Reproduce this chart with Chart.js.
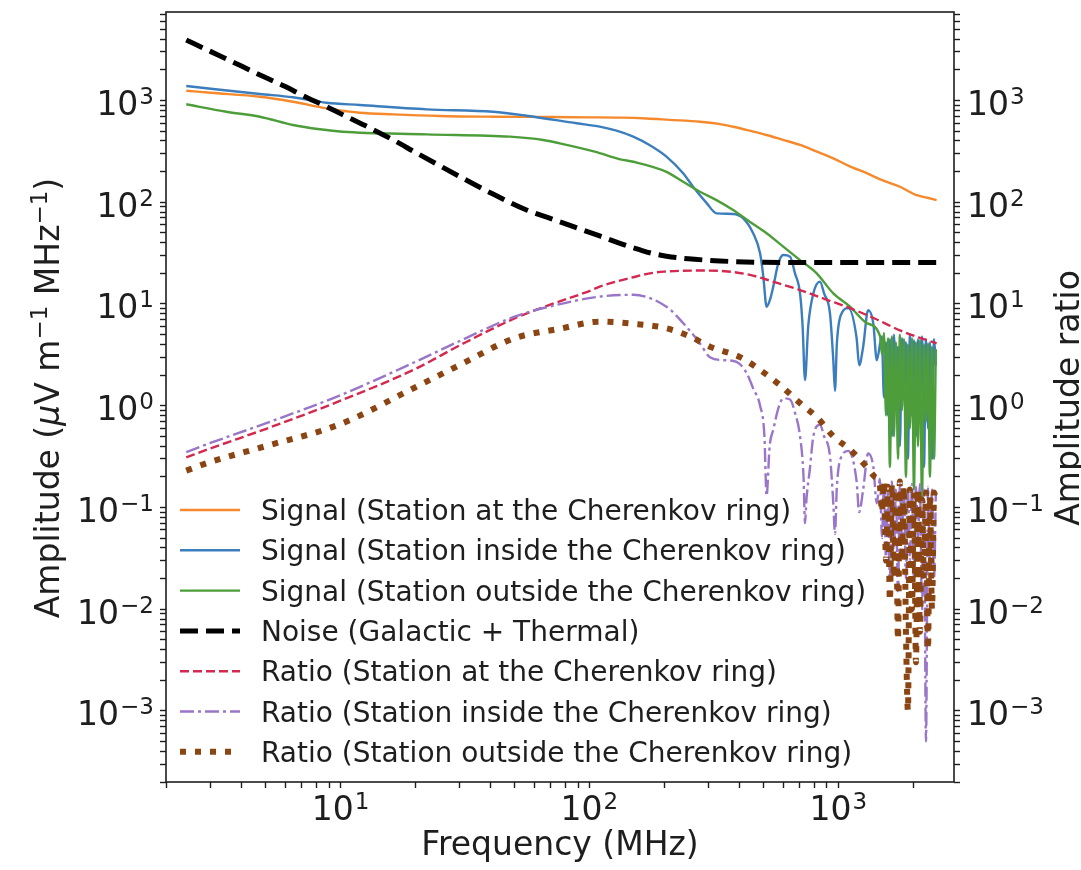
<!DOCTYPE html>
<html><head><meta charset="utf-8">
<script src="https://cdn.jsdelivr.net/npm/chart.js@4.4.1/dist/chart.umd.min.js"></script>
<style>html,body{margin:0;padding:0;background:#fff}#wrap{width:1081px;height:870px}</style>
</head><body><div id="wrap"><canvas id="c" width="1081" height="870"></canvas></div>
<script>
const FONT = "'DejaVu Sans', sans-serif";
const INK = '#1e1e1e';

/* ---- data (MHz, µV/m/MHz or ratio) ---- */
const NOISE_F = [2.4, 3, 4, 5, 6, 7, 8.8, 10, 12.5, 16.3, 20, 25, 30.2, 40, 55.9, 70, 90, 110, 132.6, 160, 180, 204, 250, 300, 378, 500, 1000, 2500];
const NOISE_V = [3935, 3040, 2180, 1680, 1370, 1130, 869, 743, 570, 409, 309, 229, 178, 124, 84, 69, 55.5, 46.6, 39.5, 34, 31.3, 29.5, 27.8, 26.9, 26.1, 25.7, 25.5, 25.5];

const ORANGE_F = [2.4, 3, 4.74, 6.44, 8.79, 11.95, 16.3, 25, 41, 70, 100, 133, 170, 210, 278, 330, 378, 440, 515, 600, 702, 820, 955, 1100, 1300, 1500, 1770, 2050, 2300, 2484];
const ORANGE_V = [1248, 1190, 1090, 973, 838, 759, 731, 705, 693, 688, 683, 678, 665, 645, 619, 590, 552, 505, 458, 410, 366, 315, 270, 228, 193, 165, 142, 118, 110, 105];

const BLUE_F = [2.4, 4.74, 6.44, 8.79, 11.95, 22.2, 41, 55.9, 88.9, 110, 128.5, 150, 175, 204, 238, 261, 296, 324, 378, 415, 455, 485, 500, 515, 531, 548, 574, 601, 640, 670, 702, 719, 735, 757, 794, 844, 877, 926, 955, 970, 987, 1032, 1097, 1185, 1213, 1259, 1318, 1383, 1428, 1496, 1526, 1555, 1584, 1612, 1643, 1674, 1705, 1737, 1768, 1802, 1835, 1870, 1905, 1940, 1977, 2014, 2052, 2090, 2128, 2169, 2210, 2251, 2293, 2334, 2380, 2425, 2466];
const BLUE_V = [1388, 1159, 1075, 951, 903, 819, 776, 709, 597, 553, 505, 441, 363, 281, 193, 142, 98, 77.8, 76.7, 69.5, 49.5, 31.5, 18.5, 9.4, 10.9, 14.8, 25, 30.3, 29.2, 20, 12.7, 6, 1.79, 6, 12.7, 16.6, 12.7, 8.1, 2.8, 1.4, 4.1, 8.1, 9.1, 4.6, 2.5, 3.8, 8.7, 6.4, 2.8, 4.8, 1.2, 4.2, 0.8, 4.5, 0.5, 5, 0.9, 3.8, 0.4, 4.6, 1.5, 4.2, 0.3, 5, 0.8, 4.4, 0.5, 4.5, 1.2, 4.8, 0.25, 4.5, 0.6, 4.2, 0.3, 4.5, 2.5];

const GREEN_F = [2.4, 3.48, 4.74, 6.44, 8.26, 10.2, 22.2, 47.9, 65.2, 76, 105, 133, 150, 204, 238, 278, 324, 378, 442, 515, 601, 702, 819, 955, 1115, 1300, 1472, 1498, 1526, 1555, 1584, 1612, 1643, 1674, 1705, 1737, 1768, 1802, 1835, 1870, 1905, 1940, 1977, 2014, 2052, 2090, 2128, 2169, 2210, 2251, 2293, 2334, 2380, 2425, 2466];
const GREEN_V = [918, 776, 693, 574, 521, 493, 465, 441, 409, 379, 314, 264, 250, 199, 159, 127, 105, 84, 64, 49.5, 36.6, 27, 20, 12.7, 9.4, 6.5, 4.8, 3.2, 5.2, 0.8, 4.6, 0.25, 4.8, 0.5, 4.2, 0.3, 5.0, 0.9, 4.5, 0.2, 4.0, 0.6, 4.6, 0.15, 4.2, 0.4, 4.4, 0.12, 4.0, 0.7, 4.1, 0.2, 3.8, 0.3, 3.6];

const RED_F = [2.4, 3, 5, 10, 20, 30, 50, 70, 100, 110, 150, 175, 200, 278, 350, 442, 550, 702, 900, 1115, 1400, 1770, 2100, 2484];
const RED_V = [0.31, 0.38, 0.59, 1.12, 2.3, 3.9, 7.2, 9.9, 13.4, 14.8, 18.3, 20, 20.8, 21.3, 21, 19.3, 16.5, 13.7, 11, 9.1, 7.2, 5.5, 4.7, 4.1];

const PURPLE_F = [2.4, 3, 5, 10, 20, 30, 50, 70, 110, 150, 204, 238, 278, 305, 350, 390, 429, 455, 485, 505, 515, 530, 548, 575, 601, 640, 670, 702, 725, 735, 745, 769, 794, 844, 877, 926, 955, 970, 987, 1032, 1097, 1185, 1213, 1259, 1318, 1383, 1428, 1470, 1498, 1526, 1555, 1584, 1612, 1643, 1674, 1705, 1737, 1768, 1802, 1835, 1870, 1905, 1940, 1977, 2014, 2052, 2090, 2128, 2169, 2210, 2251, 2293, 2334, 2380, 2425, 2466];
const PURPLE_V = [0.35, 0.43, 0.67, 1.27, 2.7, 4.3, 7.5, 9.5, 11.8, 12.3, 9.4, 6.5, 4.1, 3.0, 2.8, 2.7, 2.08, 1.48, 1.0, 0.5, 0.13, 0.4, 0.58, 0.95, 1.18, 1.15, 0.85, 0.5, 0.2, 0.07, 0.12, 0.24, 0.5, 0.65, 0.5, 0.32, 0.11, 0.055, 0.16, 0.32, 0.36, 0.18, 0.09, 0.15, 0.34, 0.25, 0.11, 0.19, 0.05, 0.17, 0.03, 0.15, 0.02, 0.18, 0.04, 0.15, 0.015, 0.17, 0.05, 0.16, 0.02, 0.15, 0.03, 0.17, 0.02, 0.16, 0.05, 0.17, 0.01, 0.15, 0.0005, 0.16, 0.03, 0.15, 0.02, 0.14];

const BROWN_F = [2.4, 3, 5, 10, 20, 30, 50, 76, 110, 150, 204, 253, 305, 403, 485, 582, 702, 830, 955, 1115, 1300, 1400, 1472, 1498, 1526, 1555, 1584, 1612, 1643, 1674, 1705, 1737, 1768, 1802, 1835, 1870, 1905, 1940, 1977, 2014, 2052, 2090, 2128, 2169, 2210, 2251, 2293, 2334, 2380, 2425, 2466];
const BROWN_V = [0.23, 0.28, 0.40, 0.66, 1.52, 2.5, 4.6, 5.7, 6.7, 6.4, 5.77, 4.8, 3.8, 3.0, 2.25, 1.6, 1.06, 0.75, 0.5, 0.37, 0.25, 0.2, 0.16, 0.09, 0.18, 0.03, 0.16, 0.012, 0.17, 0.02, 0.15, 0.005, 0.18, 0.03, 0.16, 0.006, 0.001, 0.15, 0.01, 0.14, 0.003, 0.15, 0.006, 0.12, 0.02, 0.14, 0.004, 0.13, 0.01, 0.14, 0.12];

const LABELS = [
  'Signal (Station at the Cherenkov ring)',
  'Signal (Station inside the Cherenkov ring)',
  'Signal (Station outside the Cherenkov ring)',
  'Noise (Galactic + Thermal)',
  'Ratio (Station at the Cherenkov ring)',
  'Ratio (Station inside the Cherenkov ring)',
  'Ratio (Station outside the Cherenkov ring)'
];

const X_MIN = 1.99, X_MAX = 2917, Y_MIN = 2.0e-4, Y_MAX = 7413;
const X_MAJOR = [10, 100, 1000], X_EXP = ['1', '2', '3'];
const Y_MAJOR = [1e-3, 1e-2, 1e-1, 1, 10, 100, 1000], Y_EXP = ['\u22123', '\u22122', '\u22121', '0', '1', '2', '3'];

const pts = (f, v) => f.map((x, i) => ({x, y: v[i]}));
const logTicks = (lo, hi) => {
  const out = [];
  for (let e = Math.floor(Math.log10(lo)); e <= Math.ceil(Math.log10(hi)); e++)
    for (let k = 1; k <= 9; k++) {
      const v = +(k * Math.pow(10, e)).toPrecision(6);
      if (v >= lo && v <= hi) out.push({value: v});
    }
  return out;
};

const STYLE = [
  {f: ORANGE_F, v: ORANGE_V, color: '#f5892c', w: 2.4, dash: []},
  {f: BLUE_F, v: BLUE_V, color: '#3b7dbd', w: 2.4, dash: []},
  {f: GREEN_F, v: GREEN_V, color: '#4d9e3a', w: 2.4, dash: []},
  {f: NOISE_F, v: NOISE_V, color: '#000000', w: 5, dash: [18, 8]},
  {f: RED_F, v: RED_V, color: '#d4294f', w: 2.4, dash: [9, 4]},
  {f: PURPLE_F, v: PURPLE_V, color: '#9a76c8', w: 2.4, dash: [14, 4, 3, 4]},
  {f: BROWN_F, v: BROWN_V, color: '#8b4513', w: 6, dash: [6, 9]}
];

const datasets = STYLE.map((s, i) => ({
  label: LABELS[i], data: pts(s.f, s.v),
  borderColor: s.color, borderWidth: s.w, borderDash: s.dash, borderCapStyle: 'butt',
  borderJoinStyle: 'round', pointRadius: 0, tension: 0.25, cubicInterpolationMode: 'monotone', fill: false,
  order: STYLE.length - i
}));

function pow10(ctx, x, y, exp, align) {
  ctx.font = `33px ${FONT}`; const w1 = ctx.measureText('10').width;
  ctx.font = `23px ${FONT}`; const w2 = ctx.measureText(exp).width;
  const tot = w1 + 1 + w2;
  const x0 = align === 'right' ? x - tot : align === 'center' ? x - tot / 2 : x;
  ctx.textAlign = 'left'; ctx.textBaseline = 'alphabetic';
  ctx.font = `33px ${FONT}`; ctx.fillText('10', x0, y);
  ctx.font = `23px ${FONT}`; ctx.fillText(exp, x0 + w1 + 1, y - 11);
}

function rich(ctx, parts, cx, base) {
  let tot = 0;
  parts.forEach(p => { ctx.font = p.font; p.w = ctx.measureText(p.t).width; tot += p.w; });
  let x = cx - tot / 2;
  parts.forEach(p => { ctx.font = p.font; ctx.fillText(p.t, x, base - (p.up || 0)); x += p.w; });
}

const decor = {
  id: 'decor',
  afterDraw(chart) {
    const {ctx, chartArea: a, scales} = chart;
    ctx.save();
    ctx.strokeStyle = INK; ctx.lineWidth = 1.6;
    ctx.strokeRect(a.left, a.top, a.right - a.left, a.bottom - a.top);
    ctx.fillStyle = INK;
    Y_MAJOR.forEach((v, i) => {
      const y = scales.y.getPixelForValue(v);
      pow10(ctx, a.left - 12, y + 14.5, Y_EXP[i], 'right');
      pow10(ctx, a.right + 13, y + 14.5, Y_EXP[i], 'left');
    });
    X_MAJOR.forEach((v, i) => pow10(ctx, scales.x.getPixelForValue(v), a.bottom + 38, X_EXP[i], 'center'));

    ctx.textAlign = 'left'; ctx.textBaseline = 'alphabetic';
    const N = `33px ${FONT}`, S = `23px ${FONT}`;
    rich(ctx, [{t: 'Frequency (MHz)', font: N}], (a.left + a.right) / 2, 855);
    ctx.save(); ctx.translate(59, 398); ctx.rotate(-Math.PI / 2);
    rich(ctx, [
      {t: 'Amplitude (', font: N}, {t: '\u03bc', font: `oblique 33px ${FONT}`},
      {t: 'V m', font: N}, {t: '\u22121', font: S, up: 12},
      {t: ' MHz', font: N}, {t: '\u22121', font: S, up: 12}, {t: ')', font: N}
    ], 0, 0);
    ctx.restore();
    ctx.save(); ctx.translate(1079, 398); ctx.rotate(-Math.PI / 2);
    rich(ctx, [{t: 'Amplitude ratio', font: N}], 0, 0);
    ctx.restore();

    // legend
    STYLE.forEach((s, i) => {
      const y = 510 + 40.3 * i;
      ctx.save();
      ctx.strokeStyle = s.color; ctx.lineWidth = s.w; ctx.setLineDash(s.dash); ctx.lineCap = 'butt';
      ctx.beginPath(); ctx.moveTo(180, y); ctx.lineTo(240, y); ctx.stroke();
      ctx.restore();
      ctx.font = `28px ${FONT}`; ctx.fillStyle = INK;
      ctx.fillText(LABELS[i], 261, y + 10);
    });
    ctx.restore();
  }
};

const tickGrid = {drawOnChartArea: false, drawTicks: true, tickLength: 6, tickColor: INK, tickWidth: 1.4};

new Chart(document.getElementById('c'), {
  type: 'line',
  data: {datasets},
  options: {
    responsive: false, animation: false, events: [],
    layout: {padding: {top: 12, left: 0, right: 0, bottom: 0}},
    plugins: {legend: {display: false}, tooltip: {enabled: false}},
    scales: {
      x: {type: 'logarithmic', position: 'bottom', min: X_MIN, max: X_MAX,
        grid: tickGrid, border: {display: false}, ticks: {display: false, autoSkip: false},
        afterBuildTicks: s => { s.ticks = logTicks(X_MIN, X_MAX); },
        afterFit: s => { s.height = 88; }},
      y: {type: 'logarithmic', position: 'left', min: Y_MIN, max: Y_MAX,
        grid: tickGrid, border: {display: false}, ticks: {display: false, autoSkip: false},
        afterBuildTicks: s => { s.ticks = logTicks(Y_MIN, Y_MAX); },
        afterFit: s => { s.width = 166; }},
      y2: {type: 'logarithmic', position: 'right', min: Y_MIN, max: Y_MAX,
        grid: tickGrid, border: {display: false}, ticks: {display: false, autoSkip: false},
        afterBuildTicks: s => { s.ticks = logTicks(Y_MIN, Y_MAX); },
        afterFit: s => { s.width = 127; }}
    }
  },
  plugins: [decor]
});
</script></body></html>
